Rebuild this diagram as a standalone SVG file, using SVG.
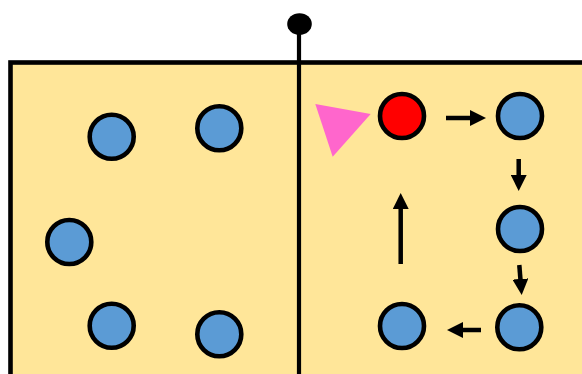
<svg xmlns="http://www.w3.org/2000/svg" width="582" height="374" viewBox="0 0 582 374">
<style>
.node{fill:#5B9BD5;stroke:#000;stroke-width:4.6}
.red{fill:#FF0000}
.conn line{stroke:#000;stroke-width:4.5}
</style>
<defs>
<marker id="ah" viewBox="0 0 16 16" refX="1" refY="8" markerWidth="16" markerHeight="16" markerUnits="userSpaceOnUse" orient="auto">
<path d="M0,0 L16,8 L0,16 z" fill="#000"/>
</marker>
</defs>
<rect x="0" y="0" width="582" height="374" fill="#fff"/>
<rect id="box" x="10.5" y="62.5" width="600" height="400" fill="#FFE699" stroke="#000" stroke-width="4.6"/>
<g id="divider">
<line x1="299" y1="24" x2="299" y2="380" stroke="#000" stroke-width="4.2"/>
<ellipse cx="299.5" cy="24" rx="12.3" ry="10.8" fill="#000"/>
</g>
<g id="n1"><circle class="node" cx="111.7" cy="136.7" r="22"/></g>
<g id="n2"><circle class="node" cx="219.3" cy="128.3" r="22"/></g>
<g id="n3"><circle class="node" cx="69.3" cy="242" r="22"/></g>
<g id="n4"><circle class="node" cx="111.7" cy="325.7" r="22"/></g>
<g id="n5"><circle class="node" cx="219.3" cy="334.3" r="22"/></g>
<g id="pointer"><polygon points="315.3,104 370.7,114 332.7,156.7" fill="#FF66CC"/></g>
<g id="r1"><circle class="node red" cx="402" cy="116" r="22"/></g>
<g id="r2"><circle class="node" cx="520" cy="116" r="22"/></g>
<g id="r3"><circle class="node" cx="520" cy="229" r="22"/></g>
<g id="r4"><circle class="node" cx="519.3" cy="327.3" r="22"/></g>
<g id="r5"><circle class="node" cx="402" cy="326" r="22"/></g>
<g id="connectors" class="conn">
<line x1="446" y1="118" x2="471" y2="118" marker-end="url(#ah)"/>
<line x1="518.7" y1="159" x2="518.7" y2="176" marker-end="url(#ah)"/>
<line x1="519.3" y1="265" x2="520.5" y2="280" marker-end="url(#ah)"/>
<line x1="481" y1="330" x2="462" y2="330" marker-end="url(#ah)"/>
<line x1="400.7" y1="264" x2="400.7" y2="208" marker-end="url(#ah)"/>
</g>
</svg>
